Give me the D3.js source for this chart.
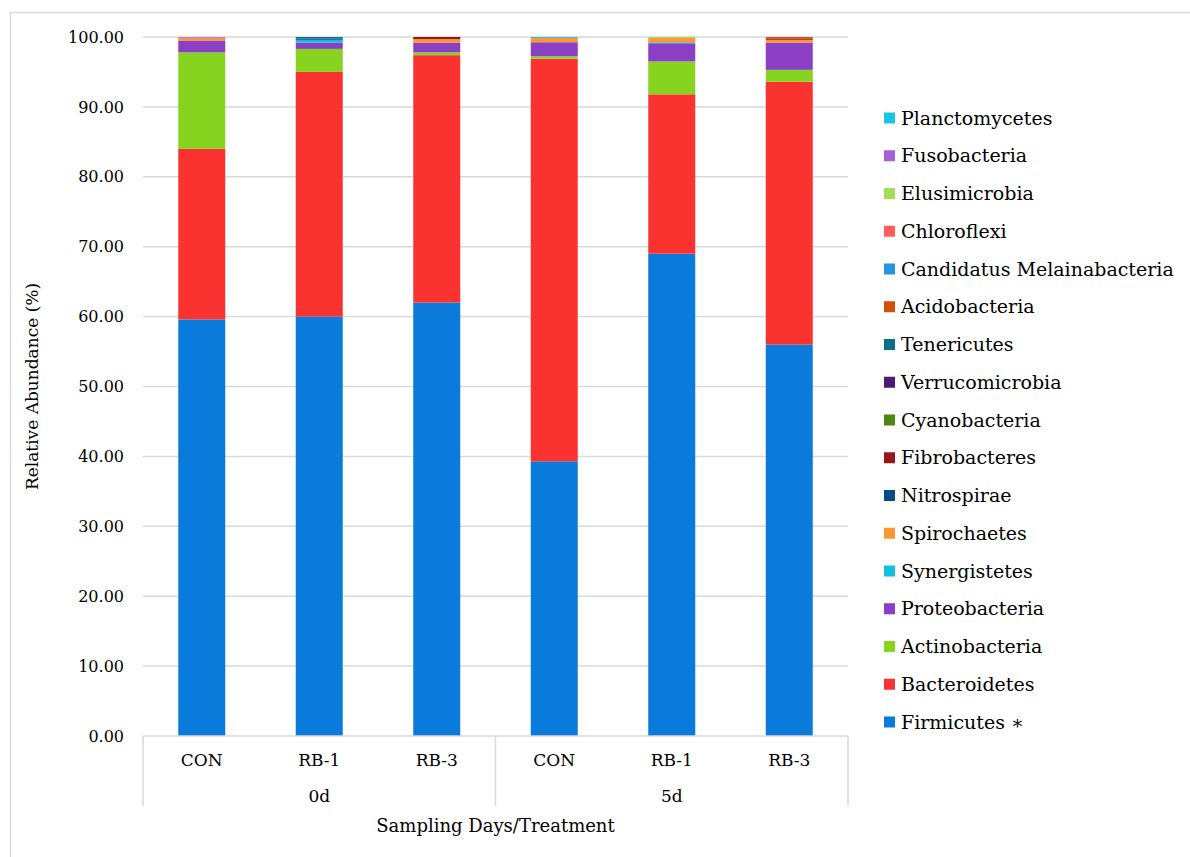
<!DOCTYPE html>
<html>
<head>
<meta charset="utf-8">
<script src="https://cdn.jsdelivr.net/npm/d3@7"></script>
<style>
  html, body { margin: 0; padding: 0; background: #fff; }
  svg { display: block; }
</style>
</head>
<body>
<svg id="chart" width="1190" height="857"></svg>
<script>
// ---- Data ----
const samples = ["CON", "RB-1", "RB-3", "CON", "RB-1", "RB-3"];
const days = ["0d", "0d", "0d", "5d", "5d", "5d"];
const dayGroups = ["0d", "5d"];
const yTicks = [0, 10, 20, 30, 40, 50, 60, 70, 80, 90, 100];

// stacking order, bottom to top
const phyla = ["Firmicutes", "Bacteroidetes", "Actinobacteria", "Proteobacteria", "Synergistetes",
  "Spirochaetes", "Nitrospirae", "Fibrobacteres", "Cyanobacteria", "Verrucomicrobia", "Tenericutes",
  "Acidobacteria", "Candidatus Melainabacteria", "Chloroflexi", "Elusimicrobia", "Fusobacteria", "Planctomycetes"];
const legendLabels = {"Firmicutes": "Firmicutes \u2217"};

// values per phylum, one per sample (0d CON, 0d RB-1, 0d RB-3, 5d CON, 5d RB-1, 5d RB-3)
const Firmicutes     = [59.6, 60.0, 62.0, 39.3, 69.0, 56.0];
const Bacteroidetes  = [24.4, 35.0, 35.4, 57.6, 22.8, 37.6];
const Actinobacteria = [13.8, 3.3, 0.4, 0.35, 4.7, 1.7];
const Proteobacteria = [1.7, 0.9, 1.4, 2.0, 2.6, 3.9];
const Synergistetes  = [0.0, 0.4, 0.0, 0.0, 0.15, 0.0];
const Spirochaetes   = [0.4, 0.0, 0.5, 0.6, 0.6, 0.4];
const Nitrospirae    = [0.0, 0.2, 0.0, 0.0, 0.0, 0.0];
const Fibrobacteres  = [0.0, 0.0, 0.3, 0.0, 0.0, 0.2];
const Cyanobacteria  = [0.0, 0.0, 0.0, 0.0, 0.0, 0.0];
const Verrucomicrobia= [0.0, 0.0, 0.0, 0.0, 0.0, 0.0];
const Tenericutes    = [0.0, 0.2, 0.0, 0.0, 0.0, 0.0];
const Acidobacteria  = [0.0, 0.0, 0.0, 0.0, 0.0, 0.2];
const CandidatusMelainabacteria = [0.0, 0.0, 0.0, 0.0, 0.0, 0.0];
const Chloroflexi    = [0.0, 0.0, 0.0, 0.0, 0.0, 0.0];
const Elusimicrobia  = [0.0, 0.0, 0.0, 0.0, 0.15, 0.0];
const Fusobacteria   = [0.1, 0.0, 0.0, 0.0, 0.0, 0.0];
const Planctomycetes = [0.0, 0.0, 0.0, 0.15, 0.0, 0.0];

const colors = {
  "Planctomycetes": "#19c6e3",
  "Fusobacteria": "#a461d6",
  "Elusimicrobia": "#a2de58",
  "Chloroflexi": "#ff5c5c",
  "Candidatus Melainabacteria": "#2495e0",
  "Acidobacteria": "#d25205",
  "Tenericutes": "#0b6f86",
  "Verrucomicrobia": "#4a1a78",
  "Cyanobacteria": "#4c880f",
  "Fibrobacteres": "#9a1515",
  "Nitrospirae": "#0b4a88",
  "Spirochaetes": "#fe9632",
  "Synergistetes": "#13bfe0",
  "Proteobacteria": "#8b3fc5",
  "Actinobacteria": "#86d41f",
  "Bacteroidetes": "#fb3330",
  "Firmicutes": "#0a7bda"
};

const seriesValues = {
  "Firmicutes": Firmicutes, "Bacteroidetes": Bacteroidetes, "Actinobacteria": Actinobacteria,
  "Proteobacteria": Proteobacteria, "Synergistetes": Synergistetes, "Spirochaetes": Spirochaetes,
  "Nitrospirae": Nitrospirae, "Fibrobacteres": Fibrobacteres, "Cyanobacteria": Cyanobacteria,
  "Verrucomicrobia": Verrucomicrobia, "Tenericutes": Tenericutes, "Acidobacteria": Acidobacteria,
  "Candidatus Melainabacteria": CandidatusMelainabacteria, "Chloroflexi": Chloroflexi,
  "Elusimicrobia": Elusimicrobia, "Fusobacteria": Fusobacteria, "Planctomycetes": Planctomycetes
};

// ---- Layout ----
const FONT = '"DejaVu Serif", "Liberation Serif", serif';
const svg = d3.select("#chart");
const plotLeft = 143, plotRight = 848, plotTop = 37, plotBottom = 736;
const gridColor = "#d9d9d9";

// outer frame (top & left visible)
svg.append("rect").attr("x", 10.5).attr("y", 12.5).attr("width", 1200).attr("height", 900)
  .attr("fill", "none").attr("stroke", gridColor).attr("stroke-width", 1.5);

const table = samples.map((s, i) => {
  const row = { key: i };
  phyla.forEach(p => row[p] = seriesValues[p][i]);
  return row;
});

const x = d3.scaleBand().domain(d3.range(samples.length)).range([plotLeft, plotRight])
  .paddingInner(0.6).paddingOuter(0.3);
const y = d3.scaleLinear().domain([0, 100]).range([plotBottom, plotTop]);

// gridlines
svg.append("g").selectAll("line").data(yTicks.filter(t => t > 0)).join("line")
  .attr("x1", plotLeft).attr("x2", plotRight)
  .attr("y1", d => y(d)).attr("y2", d => y(d))
  .attr("stroke", gridColor).attr("stroke-width", 1.5);

// y axis labels
const yAxis = d3.axisLeft(y).tickValues(yTicks).tickFormat(d3.format(".2f")).tickSize(0).tickPadding(19);
const gy = svg.append("g").attr("transform", `translate(${plotLeft},0)`).call(yAxis)
  .attr("font-family", FONT).attr("font-size", 16);
gy.select(".domain").remove();
gy.selectAll("text").attr("fill", "#000");

// stacked bars
const stack = d3.stack().keys(phyla);
const stacked = stack(table);
svg.append("g").selectAll("g").data(stacked).join("g")
  .attr("fill", d => colors[d.key])
  .selectAll("rect").data(d => d).join("rect")
  .attr("x", (d, i) => x(i))
  .attr("width", x.bandwidth())
  .attr("y", d => y(d[1]))
  .attr("height", d => Math.max(0, y(d[0]) - y(d[1])));

// x axis line
svg.append("line").attr("x1", plotLeft).attr("x2", plotRight).attr("y1", plotBottom).attr("y2", plotBottom)
  .attr("stroke", gridColor).attr("stroke-width", 1.5);

// group separators
const groupEdges = [plotLeft, (plotLeft + plotRight) / 2, plotRight];
svg.append("g").selectAll("line").data(groupEdges).join("line")
  .attr("x1", d => d).attr("x2", d => d).attr("y1", plotBottom).attr("y2", 806)
  .attr("stroke", gridColor).attr("stroke-width", 1.5);

// sample labels
svg.append("g").selectAll("text").data(samples).join("text")
  .attr("x", (d, i) => x(i) + x.bandwidth() / 2)
  .attr("y", 766)
  .attr("text-anchor", "middle")
  .attr("font-family", FONT).attr("font-size", 17)
  .text(d => d);

// day labels
const groupX = d3.scaleBand().domain(dayGroups).range([plotLeft, plotRight]);
svg.append("g").selectAll("text").data(dayGroups).join("text")
  .attr("x", d => groupX(d) + groupX.bandwidth() / 2)
  .attr("y", 802)
  .attr("text-anchor", "middle")
  .attr("font-family", FONT).attr("font-size", 17)
  .text(d => d);

// axis titles
svg.append("text").attr("x", (plotLeft + plotRight) / 2).attr("y", 832)
  .attr("text-anchor", "middle").attr("font-family", FONT).attr("font-size", 18)
  .text("Sampling Days/Treatment");

svg.append("text")
  .attr("transform", `translate(38,${(plotTop + plotBottom) / 2}) rotate(-90)`)
  .attr("text-anchor", "middle").attr("font-family", FONT).attr("font-size", 17)
  .text("Relative Abundance (%)");

// legend
const legendOrder = phyla.slice().reverse();
const ly = d3.scalePoint().domain(legendOrder).range([118, 722]);
const lg = svg.append("g").selectAll("g").data(legendOrder).join("g")
  .attr("transform", d => `translate(884,${ly(d)})`);
lg.append("rect").attr("x", 0).attr("y", -5.5).attr("width", 11).attr("height", 11)
  .attr("fill", d => colors[d]);
lg.append("text").attr("x", 17).attr("y", 0).attr("dy", "0.35em")
  .attr("font-family", FONT).attr("font-size", 19)
  .text(d => legendLabels[d] || d);
</script>
</body>
</html>
